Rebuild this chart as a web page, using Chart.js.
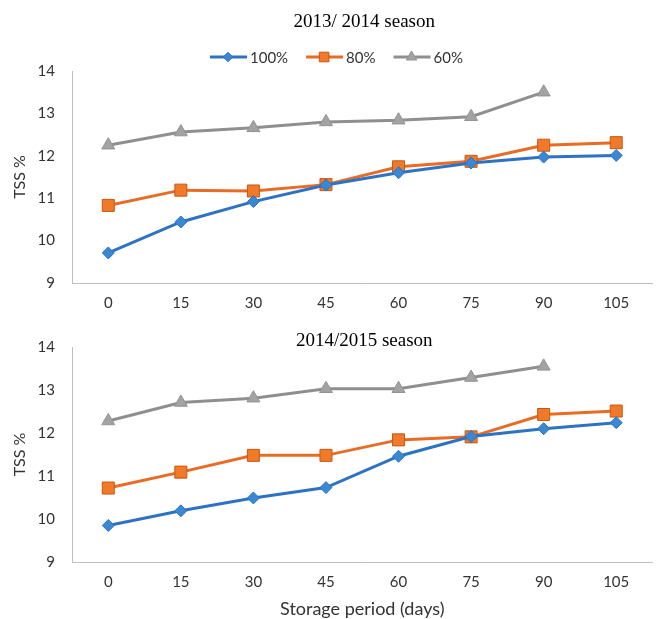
<!DOCTYPE html>
<html>
<head>
<meta charset="utf-8">
<title>TSS % during storage</title>
<script src="https://cdn.jsdelivr.net/npm/chart.js@4/dist/chart.umd.min.js"></script>
<style>
  html, body { margin: 0; padding: 0; background: #ffffff; }
  #wrap { position: relative; width: 662px; height: 619px; }
  canvas { position: absolute; left: 0; display: block; }
  #c1 { top: 0; }
  #c2 { top: 320px; }
</style>
</head>
<body>
<div id="wrap">
  <canvas id="c1" width="662" height="320"></canvas>
  <canvas id="c2" width="662" height="299"></canvas>
</div>
<script>
// Storage period (days) on the category axis
const storageDays = ['0', '15', '30', '45', '60', '75', '90', '105'];
const treatmentNames = ['100%', '80%', '60%'];
const tssTicks = [9, 10, 11, 12, 13, 14];

// TSS % — 2013/2014 season
const tss1314_100 = [9.71, 10.44, 10.92, 11.31, 11.60, 11.83, 11.97, 12.01];
const tss1314_80  = [10.83, 11.19, 11.17, 11.32, 11.74, 11.87, 12.25, 12.31];
const tss1314_60  = [12.25, 12.56, 12.66, 12.80, 12.84, 12.92, 13.50, null];

// TSS % — 2014/2015 season
const tss1415_100 = [9.85, 10.19, 10.49, 10.73, 11.46, 11.92, 12.10, 12.24];
const tss1415_80  = [10.72, 11.09, 11.48, 11.48, 11.84, 11.91, 12.43, 12.51];
const tss1415_60  = [12.28, 12.71, 12.81, 13.03, 13.03, 13.29, 13.55, null];

const seriesStyle = [
  { line: '#2E72C4', fill: '#3A87D4', edge: '#2E72C4', pointStyle: 'rectRot',  radius: 6 },
  { line: '#E86C24', fill: '#F07A2A', edge: '#C55A11', pointStyle: 'rect',     radius: 8.5 },
  { line: '#8F8F8F', fill: '#A3A3A3', edge: '#939393', pointStyle: 'triangle', radius: 7.5 }
];

const tickFont = { family: 'Lato', size: 15 };
const tickColor = '#333333';
const axisColor = '#BFBFBF';

function buildDatasets(values) {
  return values.map((v, i) => ({
    label: treatmentNames[i],
    data: v,
    borderColor: seriesStyle[i].line,
    backgroundColor: seriesStyle[i].fill,
    borderWidth: 3,
    pointStyle: seriesStyle[i].pointStyle,
    pointRadius: seriesStyle[i].radius,
    pointHoverRadius: seriesStyle[i].radius,
    pointBackgroundColor: seriesStyle[i].fill,
    pointBorderColor: seriesStyle[i].edge,
    pointBorderWidth: 1,
    tension: 0,
    spanGaps: false
  }));
}

// Season title and (optionally) the line+marker legend above the plot
const seasonHeader = {
  id: 'seasonHeader',
  afterDraw(chart, args, opts) {
    const { ctx, chartArea } = chart;
    ctx.save();
    ctx.font = '19px "Liberation Serif"';
    ctx.fillStyle = '#000000';
    ctx.textAlign = 'center';
    ctx.textBaseline = 'middle';
    ctx.fillText(opts.title, (chartArea.left + chartArea.right) / 2 + 2, opts.titleY);

    if (opts.legend) {
      let x = opts.legendX;
      const y = opts.legendY;
      ctx.font = '15px Lato';
      ctx.textAlign = 'left';
      chart.data.datasets.forEach((ds, i) => {
        const st = seriesStyle[i];
        ctx.strokeStyle = st.line;
        ctx.lineWidth = 3;
        ctx.beginPath();
        ctx.moveTo(x, y);
        ctx.lineTo(x + 37, y);
        ctx.stroke();
        ctx.fillStyle = st.fill;
        ctx.strokeStyle = st.edge;
        ctx.lineWidth = 1;
        Chart.helpers.drawPoint(ctx, {
          pointStyle: st.pointStyle,
          rotation: 0,
          radius: st.radius * 0.8,
          borderWidth: 1
        }, x + 18, y);
        ctx.fillStyle = tickColor;
        ctx.fillText(ds.label, x + 40, y + 1);
        x += 40 + ctx.measureText(ds.label).width + 18;
      });
    }
    ctx.restore();
  }
};

function makeChart(canvasId, values, padTop, xAxisHeight, header, withXTitle) {
  return new Chart(document.getElementById(canvasId), {
    type: 'line',
    data: { labels: storageDays, datasets: buildDatasets(values) },
    plugins: [seasonHeader],
    options: {
      responsive: false,
      animation: false,
      events: [],
      layout: { padding: { top: padTop, left: 0, right: 0, bottom: 0 } },
      plugins: {
        legend: { display: false },
        title: { display: false },
        tooltip: { enabled: false },
        seasonHeader: header
      },
      scales: {
        x: {
          type: 'category',
          offset: true,
          grid: { display: false, drawTicks: false },
          border: { display: true, color: axisColor, width: 1 },
          ticks: { font: tickFont, color: tickColor, padding: 11, maxRotation: 0 },
          title: {
            display: withXTitle,
            text: 'Storage period (days)',
            font: { family: 'Lato', size: 18, lineHeight: 1.1 },
            color: tickColor,
            padding: { top: 0, bottom: 0 }
          },
          afterFit(scale) { scale.height = xAxisHeight; }
        },
        y: {
          min: 9,
          max: 14,
          afterBuildTicks(scale) { scale.ticks = tssTicks.map(v => ({ value: v })); },
          grid: { display: false, drawTicks: false },
          border: { display: true, color: axisColor, width: 1 },
          ticks: { font: tickFont, color: tickColor, padding: 17 },
          title: {
            display: true,
            text: 'TSS %',
            font: { family: 'Lato', size: 16 },
            color: tickColor,
            padding: { top: 10, bottom: 0 }
          },
          afterFit(scale) { scale.width = 72; }
        }
      }
    }
  });
}

makeChart('c1', [tss1314_100, tss1314_80, tss1314_60], 71, 37,
  { title: '2013/ 2014 season', titleY: 22, legend: true, legendX: 210, legendY: 57 }, false);

makeChart('c2', [tss1415_100, tss1415_80, tss1415_60], 27, 57,
  { title: '2014/2015 season', titleY: 21, legend: false }, true);
</script>
</body>
</html>
